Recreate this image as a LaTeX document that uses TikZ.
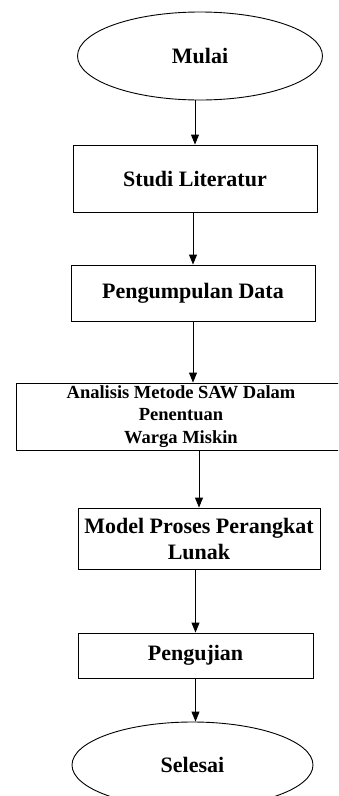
\documentclass[tikz,border=0pt]{standalone}
\usepackage{fontspec}
\setmainfont{Liberation Serif}
\usetikzlibrary{shapes.geometric,arrows.meta}

\begin{document}
\begin{tikzpicture}[x=1pt,y=-1pt,line width=.9pt]

        \useasboundingbox (0,0) rectangle (338,796);
        \clip (0,0) rectangle (338,796);

        \begin{scope}[every node/.style={draw, inner sep=0pt, align=center,
            font=\fontsize{22}{26}\selectfont\bfseries}]
          \node[ellipse, minimum width=245, minimum height=88]   (1) at (200,56)    {Mulai};
          \node[rectangle, minimum width=244, minimum height=67] (2) at (195,178.5) {Studi Literatur};
          \node[rectangle, minimum width=244, minimum height=56] (3) at (193,293)   {Pengumpulan Data};
          \node[rectangle, minimum width=330, minimum height=67,
            font=\fontsize{18.5}{22.5}\selectfont\bfseries]      (4) at (181,416.5) {Analisis Metode SAW Dalam\\Penentuan\\Warga Miskin};
          \node[rectangle, minimum width=242, minimum height=61] (5) at (199,538.5) {Model Proses Perangkat\\Lunak};
          \node[rectangle, minimum width=235, minimum height=45] (6) at (195.5,655.5) {Pengujian};
          \node[ellipse, minimum width=241, minimum height=86]   (7) at (192.5,765) {Selesai};
        \end{scope}

        \begin{scope}[every edge/.style={draw, -{Triangle[width=8pt,length=10pt]}}]
          \path (2 |- 1.south) edge (2.north);
          \path (3 |- 2.south) edge (3.north);
          \path (3.south)      edge (3 |- 4.north);
          \path (5 |- 4.south) edge (5.north);
          \path (6 |- 5.south) edge (6.north);
          \path (6.south)      edge (6.south |- 7.north);
        \end{scope}

      \end{tikzpicture}
\end{document}
